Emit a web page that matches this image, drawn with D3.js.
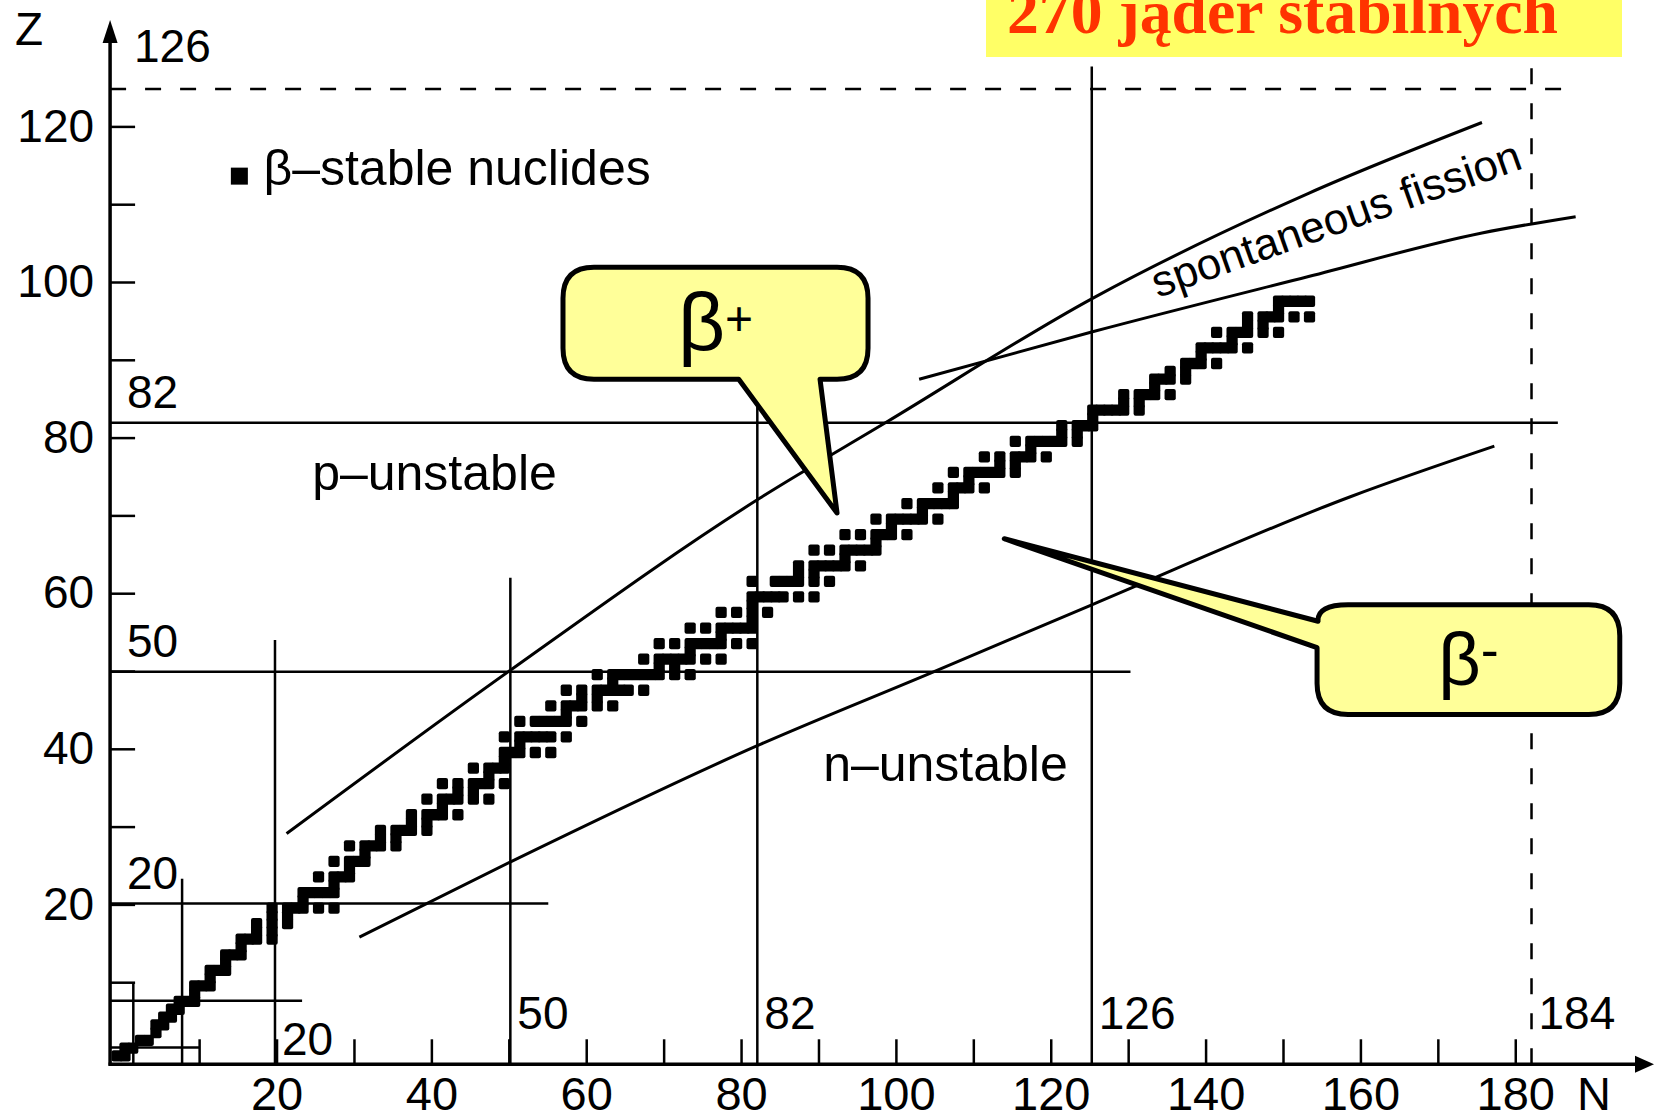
<!DOCTYPE html>
<html>
<head>
<meta charset="utf-8">
<script src="https://cdn.jsdelivr.net/npm/d3@7"></script>
<style>
  body { margin: 0; background: #fff; }
</style>
</head>
<body>
<svg id="chart" width="1654" height="1116"></svg>
<script>
// beta-stable nuclides, one row per Z: [Z, [N, N, ...]]
var nuclides = [
  [1,[0,1]], [2,[1,2]], [3,[3,4]], [4,[5]], [5,[5,6]], [6,[6,7]], [7,[7,8]],
  [8,[8,9,10]], [9,[10]], [10,[10,11,12]], [11,[12]], [12,[12,13,14]], [13,[14]],
  [14,[14,15,16]], [15,[16]], [16,[16,17,18,20]], [17,[18,20]], [18,[18,20,22]],
  [19,[20,22]], [20,[20,22,23,24,26,28]], [21,[24]], [22,[24,25,26,27,28]],
  [23,[28]], [24,[26,28,29,30]], [25,[30]], [26,[28,30,31,32]], [27,[32]],
  [28,[30,32,33,34,36]], [29,[34,36]], [30,[34,36,37,38,40]], [31,[38,40]],
  [32,[38,40,41,42,44]], [33,[42]], [34,[40,42,43,44,46,48]], [35,[44,46]],
  [36,[42,44,46,47,48,50]], [37,[48]], [38,[46,48,49,50]], [39,[50]],
  [40,[50,51,52,54,56]], [41,[52]], [42,[50,52,53,54,55,56,58]],
  [44,[52,54,55,56,57,58,60]], [45,[58]], [46,[56,58,59,60,62,64]], [47,[60,62]],
  [48,[58,60,62,63,64,65,66,68]], [49,[64]], [50,[62,64,65,66,67,68,69,70,72,74]],
  [51,[70,72]], [52,[68,70,71,72,73,74,76,78]], [53,[74]],
  [54,[70,72,74,75,76,77,78,80,82]], [55,[78]], [56,[74,76,78,79,80,81,82]],
  [57,[82]], [58,[78,80,82,84]], [59,[82]], [60,[82,83,84,85,86,88,90]],
  [62,[82,85,86,87,88,90,92]], [63,[88,90]], [64,[88,90,91,92,93,94,96]], [65,[94]],
  [66,[90,92,94,95,96,97,98]], [67,[98]], [68,[94,96,98,99,100,102]], [69,[100]],
  [70,[98,100,101,102,103,104,106]], [71,[104]], [72,[102,104,105,106,107,108]],
  [73,[108]], [74,[106,108,109,110,112]], [75,[110]], [76,[108,110,111,112,113,114,116]],
  [77,[114,116]], [78,[112,114,116,117,118,120]], [79,[118]],
  [80,[116,118,119,120,121,122,124]], [81,[122,124]], [82,[122,124,125,126]],
  [83,[126]], [84,[126,127,128,129,130,132]], [85,[130,132]], [86,[130,132,133,134,136]],
  [87,[134]], [88,[134,135,136,138]], [89,[136,138]], [90,[138,139,140,142]], [91,[140]],
  [92,[140,141,142,143,144,146]], [93,[144]], [94,[142,144,145,146,148,150]],
  [95,[146,148]], [96,[146,148,149,150,152,154]], [97,[150]], [98,[150,151,152,153,154]]
];

var xTicks = d3.range(10, 190, 10);
var yTicks = d3.range(10, 130, 10);

// magic-number lines: label, where the line sits, where it stops
var magicZ   = ["2", "8", "20", "50", "82", "126"];
var magicZAt = [1.6, 7.6, 20.1, 49.9, 81.9, 124.8];
var magicZTo = [10.1, 23.3, 55.1, 130.3, 185.5, 186.3];
var magicN   = ["2", "8", "20", "50", "82", "126", "184"];
var magicNAt = [1.5, 7.8, 19.8, 50.2, 82.1, 125.3, 182.1];
var magicNTo = [10, 23.3, 54, 62, 84.7, 127.7, 128.8];

// boundary curves as [N, Z]
var protonLine  = [[21.3,29.1],[50.2,50.1],[82.4,72.2],[98.8,82],[125.4,97.9],[153.3,111.4],[175.7,120.5]];
var neutronLine = [[30.7,15.8],[50.1,25.4],[82.1,40.4],[104.4,49.7],[125.3,58.5],[158.7,72.4],[177.3,78.9]];
var fissionLine = [[103,87.5],[125.4,93.6],[153.3,100.7],[175.7,106.3],[187.8,108.4]];

var sans = "Liberation Sans, Arial, Helvetica, sans-serif";
var svg = d3.select("#chart").attr("font-family", sans);
var width = +svg.attr("width"), height = +svg.attr("height");

var x = d3.scaleLinear().domain([0, 180]).range([121.7, 121.7 + 180 * 7.742]);
var y = d3.scaleLinear().domain([0, 120]).range([1060, 1060 - 120 * 7.78]);

var x0 = x(-1.5), y0 = y(-0.55);

svg.append("rect").attr("width", width).attr("height", height).attr("fill", "#fff");

// title box
svg.append("rect")
    .attr("x", 986).attr("y", 0).attr("width", 636).attr("height", 57)
    .attr("fill", "#ffff66");
svg.append("text")
    .attr("x", 1007).attr("y", 33)
    .style("font-family", "'Liberation Serif', 'Times New Roman', serif")
    .attr("font-weight", "bold")
    .attr("font-size", 63)
    .attr("fill", "#ff3300")
    .attr("textLength", 551)
    .attr("lengthAdjust", "spacingAndGlyphs")
    .text("270 jąder stabilnych");

// magic lines
var lines = svg.append("g").attr("stroke", "#000").attr("stroke-width", 2.5).attr("fill", "none");

lines.selectAll("line.mz")
  .data(magicZ)
  .enter().append("line")
    .attr("class", "mz")
    .attr("x1", x0)
    .attr("x2", function(d, i) { return x(magicZTo[i]); })
    .attr("y1", function(d, i) { return y(magicZAt[i]); })
    .attr("y2", function(d, i) { return y(magicZAt[i]); })
    .attr("stroke-dasharray", function(d) { return d === "126" ? "16,19" : null; });

lines.selectAll("line.mn")
  .data(magicN)
  .enter().append("line")
    .attr("class", "mn")
    .attr("y1", y0)
    .attr("y2", function(d, i) { return y(magicNTo[i]); })
    .attr("x1", function(d, i) { return x(magicNAt[i]); })
    .attr("x2", function(d, i) { return x(magicNAt[i]); })
    .attr("stroke-dasharray", function(d) { return d === "184" ? "16,19" : null; });

// boundary curves
var curve = d3.line()
    .x(function(d) { return x(d[0]); })
    .y(function(d) { return y(d[1]); })
    .curve(d3.curveMonotoneX);

svg.append("g")
    .attr("fill", "none").attr("stroke", "#000").attr("stroke-width", 3)
  .selectAll("path")
  .data([protonLine, neutronLine, fissionLine])
  .enter().append("path")
    .attr("d", curve);

// nuclides
var cells = [];
nuclides.forEach(function(row) {
  row[1].forEach(function(n) { cells.push({z: row[0], n: n}); });
});

svg.append("g")
  .selectAll("rect")
  .data(cells)
  .enter().append("rect")
    .attr("x", function(d) { return x(d.n - 1.3); })
    .attr("y", function(d) { return y(d.z + 0.25); })
    .attr("width", function(d) { return x(d.n + 0.15) - x(d.n - 1.3); })
    .attr("height", function(d) { return y(d.z - 1.2) - y(d.z + 0.25); })
    .attr("rx", 2)
    .attr("fill", "#000");

// axes
var gx = svg.append("g")
    .attr("transform", "translate(0," + y0 + ")")
    .call(d3.axisBottom(x).tickValues(xTicks).tickSize(-25).tickPadding(12)
      .tickFormat(function(d) { return d % 20 === 0 ? d : ""; }));
gx.select(".domain").remove();
gx.attr("font-size", 47).attr("font-family", sans);
gx.selectAll("line").attr("stroke-width", 2.5);
gx.selectAll("text").attr("fill", "#000");

var gy = svg.append("g")
    .attr("transform", "translate(" + x0 + ",0)")
    .call(d3.axisLeft(y).tickValues(yTicks).tickSize(-25).tickPadding(16)
      .tickFormat(function(d) { return d % 20 === 0 ? d : ""; }));
gy.select(".domain").remove();
gy.attr("font-size", 46).attr("font-family", sans);
gy.selectAll("line").attr("stroke-width", 2.5);
gy.selectAll("text").attr("fill", "#000");

svg.append("line")
    .attr("x1", x0).attr("x2", x0).attr("y1", y0 + 1.5).attr("y2", 40)
    .attr("stroke", "#000").attr("stroke-width", 3.5);
svg.append("polygon")
    .attr("points", [[x0, 20], [x0 - 7.5, 43], [x0 + 7.5, 43]].join(" "))
    .attr("fill", "#000");
svg.append("line")
    .attr("x1", x0 - 1.5).attr("x2", 1640).attr("y1", y0).attr("y2", y0)
    .attr("stroke", "#000").attr("stroke-width", 3.5);
svg.append("polygon")
    .attr("points", [[1654, y0], [1635, y0 - 8.5], [1635, y0 + 8.5]].join(" "))
    .attr("fill", "#000");

svg.append("text").attr("x", 15).attr("y", 45).attr("font-size", 46).text("Z");
svg.append("text").attr("x", 1577).attr("y", 1110).attr("font-size", 47).text("N");

// magic-number labels
var labels = svg.append("g").attr("font-size", 46).attr("fill", "#000");
magicZ.forEach(function(d, i) {
  if (+d < 20) return;
  labels.append("text")
      .attr("x", d === "126" ? 134 : 127)
      .attr("y", y(magicZAt[i]) - (d === "126" ? 27 : 15))
      .text(d);
});
magicN.forEach(function(d, i) {
  if (+d < 20) return;
  labels.append("text")
      .attr("x", x(magicNAt[i]) + 7)
      .attr("y", d === "20" ? 1055 : 1029)
      .text(d);
});

// region labels
var notes = svg.append("g").attr("font-size", 50).attr("fill", "#000");
notes.append("rect")
    .attr("x", x(14.1)).attr("y", y(114.7)).attr("width", 17).attr("height", 17)
    .attr("fill", "#000");
notes.append("text").attr("x", x(18.3)).attr("y", y(112.5)).text("β–stable nuclides");
notes.append("text").attr("x", x(24.6)).attr("y", y(73.3)).text("p–unstable");
notes.append("text").attr("x", x(90.6)).attr("y", y(35.8)).text("n–unstable");
notes.append("text")
    .attr("transform", "translate(" + x(157.5) + "," + y(106.3) + ") rotate(-19.5)")
    .attr("text-anchor", "middle")
    .attr("font-size", 44)
    .text("spontaneous fission");

// callouts
function roundCorner(p, cx, cy, ex, ey) { p.quadraticCurveTo(cx, cy, ex, ey); }

var r = 31;
// beta+ : box with tail on the bottom edge
var bx0 = x(57), bx1 = x(96.4), by0 = y(101.9), by1 = y(87.5);
var pPlus = d3.path();
pPlus.moveTo(bx0 + r, by0);
pPlus.lineTo(bx1 - r, by0);
roundCorner(pPlus, bx1, by0, bx1, by0 + r);
pPlus.lineTo(bx1, by1 - r);
roundCorner(pPlus, bx1, by1, bx1 - r, by1);
pPlus.lineTo(x(90.2), by1);
pPlus.lineTo(x(92.4), y(70.3));
pPlus.lineTo(x(79.7), by1);
pPlus.lineTo(bx0 + r, by1);
roundCorner(pPlus, bx0, by1, bx0, by1 - r);
pPlus.lineTo(bx0, by0 + r);
roundCorner(pPlus, bx0, by0, bx0 + r, by0);
pPlus.closePath();

// beta- : box with tail on the left edge
var cx0 = x(154.4), cx1 = x(193.5), cy0 = y(58.5), cy1 = y(44.4);
var pMinus = d3.path();
pMinus.moveTo(cx0 + r, cy0);
pMinus.lineTo(cx1 - r, cy0);
roundCorner(pMinus, cx1, cy0, cx1, cy0 + r);
pMinus.lineTo(cx1, cy1 - r);
roundCorner(pMinus, cx1, cy1, cx1 - r, cy1);
pMinus.lineTo(cx0 + r, cy1);
roundCorner(pMinus, cx0, cy1, cx0, cy1 - r);
pMinus.lineTo(cx0, y(53.0));
pMinus.lineTo(x(114.0), y(67.0));
pMinus.lineTo(cx0 + 1, y(56.4));
roundCorner(pMinus, cx0, cy0, cx0 + r, cy0);
pMinus.closePath();

svg.append("g")
    .attr("fill", "#ffff99").attr("stroke", "#000").attr("stroke-width", 5)
    .attr("stroke-linejoin", "round")
  .selectAll("path")
  .data([pPlus.toString(), pMinus.toString()])
  .enter().append("path")
    .attr("d", function(d) { return d; });

var tPlus = svg.append("text")
    .attr("x", (bx0 + bx1) / 2).attr("y", 350)
    .attr("text-anchor", "middle").attr("font-size", 82);
tPlus.append("tspan").text("β");
tPlus.append("tspan").attr("font-size", 48).attr("dy", -15).text("+");

var tMinus = svg.append("text")
    .attr("x", (cx0 + cx1) / 2).attr("y", 685)
    .attr("text-anchor", "middle").attr("font-size", 74);
tMinus.append("tspan").text("β");
tMinus.append("tspan").attr("font-size", 54).attr("dy", -17).text("-");
</script>
</body>
</html>
